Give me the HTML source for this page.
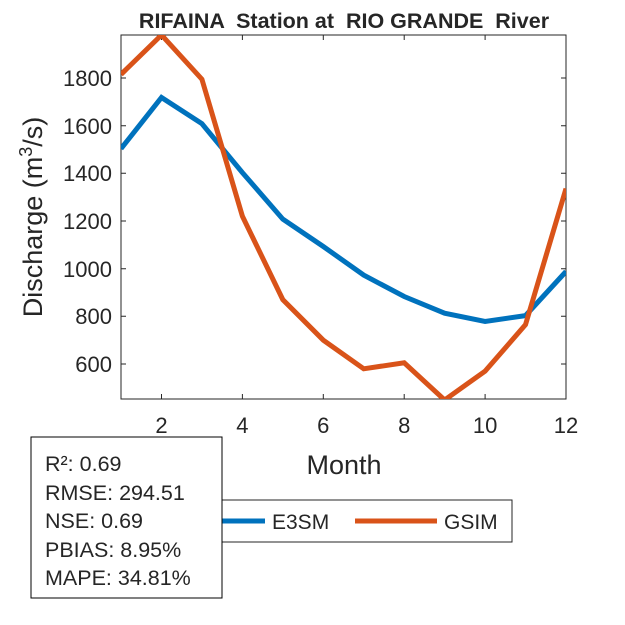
<!DOCTYPE html>
<html><head><meta charset="utf-8"><style>
body{margin:0;background:#fff}
svg{display:block}
text{font-family:"Liberation Sans",Arial,sans-serif;fill:#262626}
</style></head><body>
<svg width="625" height="625" viewBox="0 0 625 625">
<rect width="625" height="625" fill="#fff"/>
<g stroke="#262626" stroke-width="1" fill="none">
<rect x="121" y="35" width="445" height="364"/>
<path d="M161.5 399v-5M242.4 399v-5M323.3 399v-5M404.2 399v-5M485.1 399v-5M161.5 35v5M242.4 35v5M323.3 35v5M404.2 35v5M485.1 35v5"/>
<path d="M121 364h5M121 316.3h5M121 268.7h5M121 221h5M121 173.3h5M121 125.7h5M121 78h5M566 364h-5M566 316.3h-5M566 268.7h-5M566 221h-5M566 173.3h-5M566 125.7h-5M566 78h-5"/>
</g>
<g font-size="22" text-anchor="end">
<text x="112" y="372">600</text><text x="112" y="324">800</text><text x="112" y="277">1000</text><text x="112" y="229">1200</text><text x="112" y="181">1400</text><text x="112" y="134">1600</text><text x="112" y="86">1800</text>
</g>
<g font-size="22" text-anchor="middle">
<text x="161.5" y="433">2</text><text x="242.4" y="433">4</text><text x="323.3" y="433">6</text><text x="404.2" y="433">8</text><text x="485.1" y="433">10</text><text x="566" y="433">12</text>
</g>
<text x="344" y="474" font-size="27" text-anchor="middle">Month</text>
<text transform="translate(42 217) rotate(-90)" font-size="27" text-anchor="middle">Discharge (m<tspan dy="-10" font-size="18">3</tspan><tspan dy="10">/s)</tspan></text>
<text x="344" y="28" font-size="21.5" font-weight="bold" text-anchor="middle" fill="#000" style="white-space:pre" xml:space="preserve">RIFAINA  Station at  RIO GRANDE  River</text>
<svg x="121" y="35" width="445" height="364" overflow="hidden">
<g transform="translate(-121 -35)" fill="none" stroke-width="5" stroke-linejoin="miter">
<polyline stroke="#0072BD" points="121,148.7 161.5,97.5 201.9,123.7 242.4,172.6 282.8,219.1 323.3,246.5 363.7,275.1 404.2,296.5 444.6,313.2 485.1,321.5 525.5,315.6 566,271.5"/>
<polyline stroke="#D95319" points="121,74.4 161.5,35 201.9,79.2 242.4,216.2 282.8,299.6 323.3,340.2 363.7,368.8 404.2,362.8 444.6,400 485.1,371.1 525.5,324.7 566,188.6"/>
</g>
</svg>
<rect x="222" y="500" width="290" height="42" fill="#fff" stroke="#262626" stroke-width="1"/>
<line x1="222" y1="521" x2="265" y2="521" stroke="#0072BD" stroke-width="5"/>
<text x="272" y="529" font-size="21" fill="#000">E3SM</text>
<line x1="355" y1="521" x2="437" y2="521" stroke="#D95319" stroke-width="5"/>
<text x="444" y="529" font-size="21" fill="#000">GSIM</text>
<rect x="31" y="437" width="191" height="161" fill="#fff" stroke="#000" stroke-width="1"/>
<g font-size="21.5" fill="#000">
<text x="45" y="471">R²: 0.69</text>
<text x="45" y="500">RMSE: 294.51</text>
<text x="45" y="528">NSE: 0.69</text>
<text x="45" y="557">PBIAS: 8.95%</text>
<text x="45" y="585">MAPE: 34.81%</text>
</g>
</svg>
</body></html>
